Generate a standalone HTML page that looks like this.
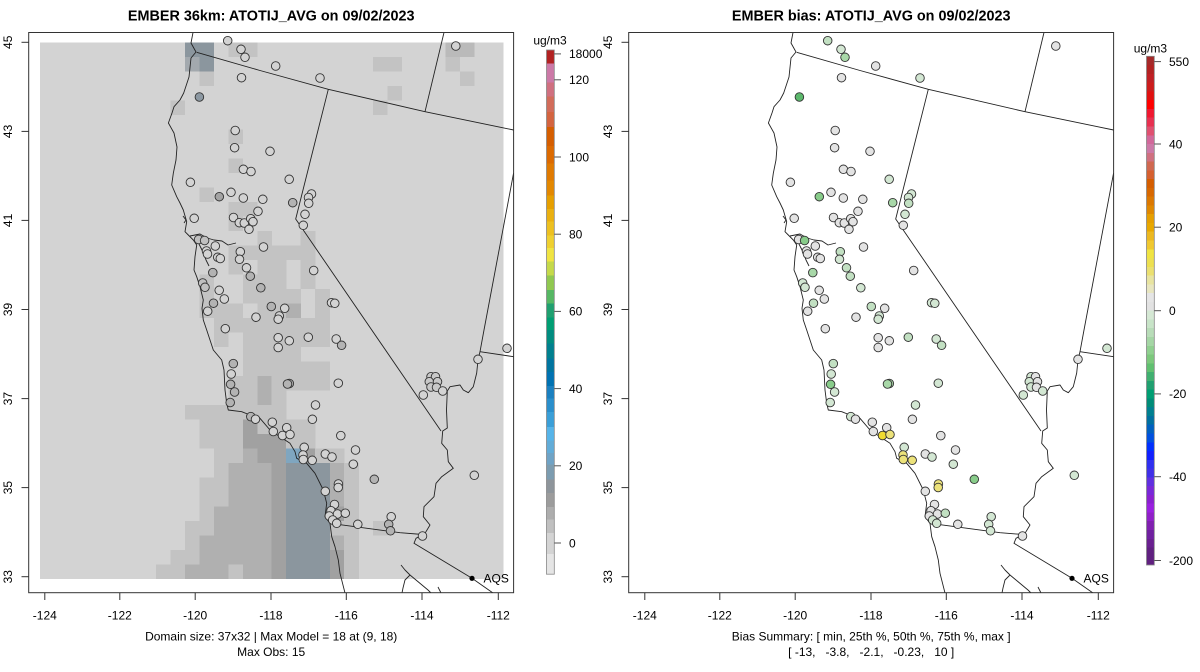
<!DOCTYPE html>
<html>
<head>
<meta charset="utf-8">
<style>
html,body{margin:0;padding:0;background:#fff;}
svg{display:block;}
text{font-family:"Liberation Sans",Arial,sans-serif;fill:#000;}
.t{font-size:14.4px;font-weight:bold;}
.a{font-size:12px;}
.n{fill:#d3d3d3}.d{fill:#a3a3a3}.m{fill:#b3b3b3}.c{fill:#c0c0c0}.b{fill:#8c98a2}.v{fill:#c8c8c8}
.g0{fill:#e3e3e3}.g1{fill:#d3e7d3}.g2{fill:#c2e0c2}.g3{fill:#a8d8a8}.g4{fill:#88cc8a}.g5{fill:#5cb86c}.y1{fill:#f0dc30}.y2{fill:#ece27a}
.L1{fill:#c3c3c3}.L2{fill:#b0b0b0}.L3{fill:#a1a1a1}.B{fill:#8b969e}.BL{fill:#7fa6c0}.B1{fill:#a3a9ae}.Lb{fill:#bababa}
</style>
</head>
<body>
<svg width="1200" height="672" viewBox="0 0 1200 672" xmlns="http://www.w3.org/2000/svg">
<defs>
<clipPath id="clipL"><rect x="28.7" y="32.5" width="484.9" height="560.2"/></clipPath>
<clipPath id="clipR"><rect x="628.7" y="32.5" width="484.9" height="560.2"/></clipPath>
<g id="geo" fill="none" stroke="#222" stroke-width="0.9" stroke-linejoin="round">
<path d="M193,32.5 L191,43 L196,52 L191,58 L189,77 L183.7,93 L180,100 L174,106.7 L172,113 L168.4,123 L174,133 L177,147 L176,160 L173.3,173.3 L171.7,185 L176.7,196.7 L180,203 L183.3,210 L186.7,221.7 L185,231.7 L188.3,235 L193.3,240 L196.7,245 L195,256.7 L194,270 L196.7,276.7 L200,286.7 L203.3,300 L202,308.3 L203.3,320 L206.7,330 L210,340 L213.3,350 L221.7,360 L224,370 L225,390 L226.7,403.3 L228.3,410 L241.7,411.7 L250,415 L260,418.3 L270,430 L280,436.7 L290,443.3 L295,451.7 L296.7,458.3 L306.7,463.3 L315,473.3 L323.3,490 L326.7,503.3 L325,516.7 L330,523.3 L331.7,536.7 L335,546.7 L338.3,560 L340,573.3 L345,593"/>
<path d="M190,236 L200,234 L207,238 L214,240 L222,241 L228,245 L236,243 M199,244 L203,252 L206,260 L209,266 M183,216 L186,220 L184,223"/>
<path d="M196.7,52.3 L260,70.5 L328.3,89.3 L425,111.7 L513.6,130"/>
<path d="M444,32.5 L425,111.7"/>
<path d="M513.6,173 L484,330 L480,351.7 L513.6,356.7"/>
<path d="M328.3,89.3 L295.7,219 L441,431"/>
<path d="M480,351.7 L478,360 L476.7,373 L473.3,386.7 L468.3,392.7 L463.3,390 L460,385 L450,386.7 L447.3,391 L446.5,410 L447.3,428 L442.7,431 L441.7,443.3 L447.3,450 L448.3,461.7 L453.3,468.3 L441.7,476.7 L436,483.3 L434,496.7 L424,506.7 L423.3,516.7 L430,525 L425,533.3 L416,538.3 L414,543.3 L472,578.3 L493,593"/>
<path d="M330,523.3 L400,532.7 L422.7,534.5"/>
<path d="M401,565 L405,570 L410,575 L416,580 L428,590 L431,593 M410,575 L405,580 L403,588 L402,593 M438,587 L441,593"/>
</g>
</defs>

<!-- ================= LEFT PANEL ================= -->
<text class="t" x="271.2" y="20.7" text-anchor="middle">EMBER 36km: ATOTIJ_AVG on 09/02/2023</text>
<g clip-path="url(#clipL)" shape-rendering="crispEdges">
<rect x="40.2" y="42.3" width="463.1" height="536.5" fill="#d3d3d3"/>
<rect class="B" x="184.9" y="42.3" width="29.2" height="14.8"/>
<rect class="L1" x="228.31" y="42.3" width="29.2" height="14.8"/>
<rect class="Lb" x="445.36" y="42.3" width="29.2" height="14.8"/>
<rect class="B1" x="184.9" y="56.8" width="14.7" height="14.8"/>
<rect class="B" x="199.37" y="56.8" width="14.7" height="14.8"/>
<rect class="L1" x="373.01" y="56.8" width="29.2" height="14.8"/>
<rect class="L1" x="445.36" y="56.8" width="14.7" height="14.8"/>
<rect class="L1" x="199.37" y="71.3" width="14.7" height="14.8"/>
<rect class="L1" x="459.83" y="71.3" width="14.7" height="14.8"/>
<rect class="L1" x="387.48" y="85.8" width="14.7" height="14.8"/>
<rect class="L1" x="170.43" y="100.3" width="14.7" height="14.8"/>
<rect class="L1" x="373.01" y="100.3" width="14.7" height="14.8"/>
<rect class="L1" x="228.31" y="129.3" width="14.7" height="14.8"/>
<rect class="L1" x="228.31" y="158.3" width="14.7" height="14.8"/>
<rect class="L1" x="199.37" y="187.3" width="14.7" height="14.8"/>
<rect class="L1" x="228.31" y="201.8" width="29.2" height="14.8"/>
<rect class="L1" x="228.31" y="216.3" width="14.7" height="14.8"/>
<rect class="L1" x="257.25" y="230.8" width="14.7" height="14.8"/>
<rect class="L1" x="300.66" y="230.8" width="14.7" height="14.8"/>
<rect class="L1" x="228.31" y="245.3" width="87.1" height="14.8"/>
<rect class="L1" x="228.31" y="259.8" width="14.7" height="14.8"/>
<rect class="L1" x="257.25" y="259.8" width="29.2" height="14.8"/>
<rect class="L1" x="300.66" y="259.8" width="14.7" height="14.8"/>
<rect class="L1" x="199.37" y="274.3" width="14.7" height="14.8"/>
<rect class="L1" x="242.78" y="274.3" width="43.7" height="14.8"/>
<rect class="L1" x="300.66" y="274.3" width="14.7" height="14.8"/>
<rect class="L1" x="199.37" y="288.8" width="14.7" height="14.8"/>
<rect class="L1" x="242.78" y="288.8" width="58.1" height="14.8"/>
<rect class="L1" x="315.13" y="288.8" width="14.7" height="14.8"/>
<rect class="L1" x="199.37" y="303.3" width="43.7" height="14.8"/>
<rect class="L1" x="257.25" y="303.3" width="29.2" height="14.8"/>
<rect class="L2" x="286.19" y="303.3" width="14.7" height="14.8"/>
<rect class="L1" x="315.13" y="303.3" width="14.7" height="14.8"/>
<rect class="L1" x="213.84" y="317.8" width="116" height="14.8"/>
<rect class="L1" x="213.84" y="332.3" width="14.7" height="14.8"/>
<rect class="L1" x="242.78" y="332.3" width="87.1" height="14.8"/>
<rect class="L1" x="242.78" y="346.8" width="58.1" height="14.8"/>
<rect class="L1" x="242.78" y="361.3" width="87.1" height="14.8"/>
<rect class="L1" x="228.31" y="375.8" width="29.2" height="14.8"/>
<rect class="L2" x="257.25" y="375.8" width="14.7" height="14.8"/>
<rect class="L1" x="271.72" y="375.8" width="58.1" height="14.8"/>
<rect class="L1" x="228.31" y="390.3" width="29.2" height="14.8"/>
<rect class="L2" x="257.25" y="390.3" width="14.7" height="14.8"/>
<rect class="L1" x="271.72" y="390.3" width="14.7" height="14.8"/>
<rect class="L1" x="184.9" y="404.8" width="101.5" height="14.8"/>
<rect class="L1" x="199.37" y="419.3" width="43.7" height="14.8"/>
<rect class="L3" x="242.78" y="419.3" width="14.7" height="14.8"/>
<rect class="L1" x="257.25" y="419.3" width="58.1" height="14.8"/>
<rect class="L1" x="199.37" y="433.8" width="43.7" height="14.8"/>
<rect class="L3" x="242.78" y="433.8" width="43.7" height="14.8"/>
<rect class="L1" x="286.19" y="433.8" width="29.2" height="14.8"/>
<rect class="L1" x="213.84" y="448.3" width="29.2" height="14.8"/>
<rect class="L2" x="242.78" y="448.3" width="14.7" height="14.8"/>
<rect class="L3" x="257.25" y="448.3" width="29.2" height="14.8"/>
<rect class="BL" x="286.19" y="448.3" width="14.7" height="14.8"/>
<rect class="L3" x="300.66" y="448.3" width="14.7" height="14.8"/>
<rect class="L1" x="315.13" y="448.3" width="29.2" height="14.8"/>
<rect class="L1" x="213.84" y="462.8" width="14.7" height="14.8"/>
<rect class="L2" x="228.31" y="462.8" width="43.7" height="14.8"/>
<rect class="L2" x="329.6" y="462.8" width="14.7" height="14.8"/>
<rect class="L1" x="344.07" y="462.8" width="14.7" height="14.8"/>
<rect class="L1" x="199.37" y="477.3" width="29.2" height="29.3"/>
<rect class="L2" x="228.31" y="477.3" width="43.7" height="29.3"/>
<rect class="L2" x="329.6" y="477.3" width="14.7" height="29.3"/>
<rect class="L1" x="344.07" y="477.3" width="14.7" height="29.3"/>
<rect class="L1" x="199.37" y="506.3" width="14.7" height="14.8"/>
<rect class="L2" x="213.84" y="506.3" width="58.1" height="14.8"/>
<rect class="L3" x="329.6" y="506.3" width="14.7" height="14.8"/>
<rect class="L1" x="344.07" y="506.3" width="14.7" height="14.8"/>
<rect class="L1" x="184.9" y="520.8" width="29.2" height="14.8"/>
<rect class="L2" x="213.84" y="520.8" width="58.1" height="14.8"/>
<rect class="L1" x="329.6" y="520.8" width="29.2" height="14.8"/>
<rect class="L1" x="373.01" y="520.8" width="14.7" height="14.8"/>
<rect class="L1" x="184.9" y="535.3" width="14.7" height="14.8"/>
<rect class="L2" x="199.37" y="535.3" width="72.6" height="14.8"/>
<rect class="L2" x="329.6" y="535.3" width="14.7" height="14.8"/>
<rect class="L1" x="344.07" y="535.3" width="14.7" height="14.8"/>
<rect class="L1" x="170.43" y="549.8" width="29.2" height="14.8"/>
<rect class="L2" x="199.37" y="549.8" width="72.6" height="14.8"/>
<rect class="L3" x="329.6" y="549.8" width="14.7" height="14.8"/>
<rect class="L1" x="344.07" y="549.8" width="14.7" height="14.8"/>
<rect class="L1" x="155.96" y="564.3" width="29.2" height="14.5"/>
<rect class="L2" x="184.9" y="564.3" width="43.7" height="14.5"/>
<rect class="L1" x="228.31" y="564.3" width="14.7" height="14.5"/>
<rect class="L2" x="242.78" y="564.3" width="29.2" height="14.5"/>
<rect class="L3" x="329.6" y="564.3" width="14.7" height="14.5"/>
<rect class="L1" x="344.07" y="564.3" width="14.7" height="14.5"/>
<rect class="L3" x="271.72" y="462.8" width="14.7" height="116"/>
<rect class="B" x="286.19" y="462.8" width="43.6" height="116"/>
</g>
<g clip-path="url(#clipL)">
<use href="#geo"/>
<g stroke="#333" stroke-width="0.9">
<circle class="n" cx="227.7" cy="40.7" r="4.3"/><circle class="n" cx="241" cy="49.3" r="4.3"/><circle class="n" cx="245" cy="57.3" r="4.3"/><circle class="n" cx="275.7" cy="66" r="4.3"/><circle class="n" cx="241.5" cy="77.7" r="4.3"/><circle class="n" cx="320" cy="78" r="4.3"/><circle class="b" cx="199.4" cy="97" r="4.3"/><circle class="n" cx="376" cy="28" r="4.3"/><circle class="n" cx="455.8" cy="46" r="4.3"/><circle class="n" cx="235.2" cy="130.5" r="4.3"/><circle class="n" cx="234.6" cy="147.7" r="4.3"/><circle class="n" cx="270" cy="151.3" r="4.3"/><circle class="n" cx="243.4" cy="169.3" r="4.3"/><circle class="n" cx="251" cy="171.5" r="4.3"/><circle class="n" cx="289.2" cy="179.3" r="4.3"/><circle class="n" cx="190.4" cy="182.3" r="4.3"/><circle class="n" cx="231" cy="192.3" r="4.3"/><circle class="d" cx="219.3" cy="196.7" r="4.3"/><circle class="n" cx="243.3" cy="198" r="4.3"/><circle class="n" cx="262.8" cy="199.3" r="4.3"/><circle class="m" cx="292.7" cy="202.7" r="4.3"/><circle class="n" cx="311.5" cy="194" r="4.3"/><circle class="n" cx="308.5" cy="197.5" r="4.3"/><circle class="n" cx="308.7" cy="203.3" r="4.3"/><circle class="n" cx="305" cy="214.3" r="4.3"/><circle class="n" cx="303.3" cy="225.3" r="4.3"/><circle class="n" cx="194.2" cy="218.3" r="4.3"/><circle class="n" cx="233.5" cy="217.5" r="4.3"/><circle class="n" cx="239.3" cy="222.7" r="4.3"/><circle class="n" cx="244.3" cy="223" r="4.3"/><circle class="n" cx="250.7" cy="218.7" r="4.3"/><circle class="n" cx="253" cy="221.7" r="4.3"/><circle class="n" cx="249" cy="229.3" r="4.3"/><circle class="n" cx="258" cy="211.3" r="4.3"/><circle class="c" cx="198.6" cy="239.5" r="4.3"/><circle class="c" cx="204.6" cy="240.5" r="4.3"/><circle class="n" cx="215.3" cy="246" r="4.3"/><circle class="n" cx="206.5" cy="251" r="4.3"/><circle class="n" cx="207.5" cy="254" r="4.3"/><circle class="n" cx="217.7" cy="257.3" r="4.3"/><circle class="n" cx="220.3" cy="258.5" r="4.3"/><circle class="n" cx="240.3" cy="251.7" r="4.3"/><circle class="n" cx="239.5" cy="259.3" r="4.3"/><circle class="n" cx="263.5" cy="247" r="4.3"/><circle class="n" cx="246.5" cy="267.8" r="4.3"/><circle class="m" cx="250.3" cy="276.2" r="4.3"/><circle class="m" cx="212.8" cy="272.6" r="4.3"/><circle class="n" cx="313.7" cy="270.5" r="4.3"/><circle class="c" cx="202.7" cy="283" r="4.3"/><circle class="c" cx="205" cy="287.3" r="4.3"/><circle class="m" cx="260.8" cy="287.8" r="4.3"/><circle class="n" cx="219.2" cy="290.3" r="4.3"/><circle class="n" cx="224.3" cy="299" r="4.3"/><circle class="m" cx="213.5" cy="303.2" r="4.3"/><circle class="n" cx="207.7" cy="311.2" r="4.3"/><circle class="m" cx="271.3" cy="306.5" r="4.3"/><circle class="n" cx="284.7" cy="308.3" r="4.3"/><circle class="n" cx="279.3" cy="316" r="4.3"/><circle class="n" cx="278.2" cy="319.2" r="4.3"/><circle class="n" cx="256" cy="317.2" r="4.3"/><circle class="n" cx="331.5" cy="302.7" r="4.3"/><circle class="n" cx="334.8" cy="303.3" r="4.3"/><circle class="n" cx="225.3" cy="328.7" r="4.3"/><circle class="n" cx="278.2" cy="337.7" r="4.3"/><circle class="n" cx="289.3" cy="340.8" r="4.3"/><circle class="n" cx="278.2" cy="347.5" r="4.3"/><circle class="n" cx="308.3" cy="337.2" r="4.3"/><circle class="n" cx="336.2" cy="339" r="4.3"/><circle class="m" cx="341.6" cy="345.3" r="4.3"/><circle class="m" cx="233.3" cy="363.6" r="4.3"/><circle class="n" cx="231.2" cy="374" r="4.3"/><circle class="m" cx="230.6" cy="384.3" r="4.3"/><circle class="m" cx="234.6" cy="392" r="4.3"/><circle class="m" cx="230.2" cy="402.5" r="4.3"/><circle class="m" cx="289.3" cy="383.5" r="4.3"/><circle class="m" cx="287.5" cy="384" r="4.3"/><circle class="n" cx="338.3" cy="383.2" r="4.3"/><circle class="n" cx="315.5" cy="405" r="4.3"/><circle class="n" cx="312.4" cy="419.3" r="4.3"/><circle class="m" cx="250.8" cy="416.6" r="4.3"/><circle class="n" cx="255.5" cy="419.2" r="4.3"/><circle class="n" cx="272.3" cy="422.2" r="4.3"/><circle class="n" cx="273.3" cy="431.5" r="4.3"/><circle class="n" cx="286.7" cy="427.7" r="4.3"/><circle class="n" cx="282.5" cy="435.5" r="4.3"/><circle class="n" cx="290" cy="434.5" r="4.3"/><circle class="n" cx="340.8" cy="435.6" r="4.3"/><circle class="n" cx="304.2" cy="447.3" r="4.3"/><circle class="n" cx="303" cy="455" r="4.3"/><circle class="n" cx="303.3" cy="459.5" r="4.3"/><circle class="n" cx="312.2" cy="460.3" r="4.3"/><circle class="n" cx="325.3" cy="454" r="4.3"/><circle class="n" cx="332" cy="457" r="4.3"/><circle class="n" cx="355.5" cy="450" r="4.3"/><circle class="n" cx="353.3" cy="464.2" r="4.3"/><circle class="m" cx="374.3" cy="479.3" r="4.3"/><circle class="n" cx="338.4" cy="484" r="4.3"/><circle class="n" cx="338.2" cy="487.5" r="4.3"/><circle class="n" cx="325.3" cy="491.3" r="4.3"/><circle class="n" cx="334.5" cy="504.5" r="4.3"/><circle class="n" cx="331" cy="510.7" r="4.3"/><circle class="n" cx="329.3" cy="516" r="4.3"/><circle class="n" cx="337.5" cy="514" r="4.3"/><circle class="n" cx="345.3" cy="513.2" r="4.3"/><circle class="n" cx="332.7" cy="520" r="4.3"/><circle class="n" cx="336.7" cy="523.3" r="4.3"/><circle class="n" cx="357.8" cy="524.3" r="4.3"/><circle class="n" cx="391.2" cy="516.7" r="4.3"/><circle class="m" cx="388.7" cy="524.3" r="4.3"/><circle class="m" cx="390.5" cy="530.8" r="4.3"/><circle class="n" cx="422.5" cy="536" r="4.3"/><circle class="v" cx="431" cy="376.7" r="4.3"/><circle class="v" cx="435.5" cy="376.7" r="4.3"/><circle class="v" cx="429.3" cy="381.7" r="4.3"/><circle class="v" cx="437.5" cy="381.7" r="4.3"/><circle class="v" cx="431" cy="387" r="4.3"/><circle class="v" cx="436.5" cy="387.3" r="4.3"/><circle class="n" cx="442.7" cy="391" r="4.3"/><circle class="n" cx="423.3" cy="395" r="4.3"/><circle class="n" cx="474.3" cy="475.3" r="4.3"/><circle class="n" cx="478" cy="359.3" r="4.3"/><circle class="n" cx="507" cy="348.3" r="4.3"/>
</g>
<circle cx="472" cy="578.3" r="2.6" fill="#000"/>
</g>
<text class="a" x="483.5" y="582.6">AQS</text>
<rect x="28.7" y="32.5" width="484.9" height="560.2" fill="none" stroke="#333" stroke-width="1"/>
<g stroke="#333" stroke-width="1">
<line x1="44.8" y1="592.7" x2="44.8" y2="600"/><line x1="119.8" y1="592.7" x2="119.8" y2="600"/><line x1="195.2" y1="592.7" x2="195.2" y2="600"/><line x1="271" y1="592.7" x2="271" y2="600"/><line x1="346.3" y1="592.7" x2="346.3" y2="600"/><line x1="422" y1="592.7" x2="422" y2="600"/><line x1="498.3" y1="592.7" x2="498.3" y2="600"/>
<line x1="28.7" y1="42.3" x2="21.5" y2="42.3"/><line x1="28.7" y1="131.4" x2="21.5" y2="131.4"/><line x1="28.7" y1="220.4" x2="21.5" y2="220.4"/><line x1="28.7" y1="309.5" x2="21.5" y2="309.5"/><line x1="28.7" y1="398.6" x2="21.5" y2="398.6"/><line x1="28.7" y1="487.6" x2="21.5" y2="487.6"/><line x1="28.7" y1="576.7" x2="21.5" y2="576.7"/>
</g>
<text class="a" x="44.8" y="619.5" text-anchor="middle">-124</text><text class="a" x="119.8" y="619.5" text-anchor="middle">-122</text><text class="a" x="195.2" y="619.5" text-anchor="middle">-120</text><text class="a" x="271" y="619.5" text-anchor="middle">-118</text><text class="a" x="346.3" y="619.5" text-anchor="middle">-116</text><text class="a" x="422" y="619.5" text-anchor="middle">-114</text><text class="a" x="498.3" y="619.5" text-anchor="middle">-112</text>
<text class="a" text-anchor="middle" transform="translate(12.2,42.3) rotate(-90)">45</text><text class="a" text-anchor="middle" transform="translate(12.2,131.4) rotate(-90)">43</text><text class="a" text-anchor="middle" transform="translate(12.2,220.4) rotate(-90)">41</text><text class="a" text-anchor="middle" transform="translate(12.2,309.5) rotate(-90)">39</text><text class="a" text-anchor="middle" transform="translate(12.2,398.6) rotate(-90)">37</text><text class="a" text-anchor="middle" transform="translate(12.2,487.6) rotate(-90)">35</text><text class="a" text-anchor="middle" transform="translate(12.2,576.7) rotate(-90)">33</text>
<text class="a" x="271.2" y="640.4" text-anchor="middle">Domain size: 37x32 | Max Model = 18 at (9, 18)</text>
<text class="a" x="271.2" y="656.2" text-anchor="middle">Max Obs: 15</text>
<!-- left colorbar -->
<g shape-rendering="crispEdges">
<rect x="546.5" y="50" width="7.8" height="13.9" fill="#b22222"/><rect x="546.5" y="63.4" width="7.8" height="19.7" fill="#cc79a7"/><rect x="546.5" y="82.6" width="7.8" height="14.2" fill="#d07080"/><rect x="546.5" y="96.3" width="7.8" height="16.3" fill="#d26c5a"/><rect x="546.5" y="112.1" width="7.8" height="15.2" fill="#d46440"/><rect x="546.5" y="126.8" width="7.8" height="19.5" fill="#d55e00"/><rect x="546.5" y="145.8" width="7.8" height="18.4" fill="#dc6a00"/><rect x="546.5" y="163.7" width="7.8" height="17.3" fill="#e07a00"/><rect x="546.5" y="180.5" width="7.8" height="15.3" fill="#e38800"/><rect x="546.5" y="195.3" width="7.8" height="14.1" fill="#e69f00"/><rect x="546.5" y="208.9" width="7.8" height="13.2" fill="#eab010"/><rect x="546.5" y="221.6" width="7.8" height="14.2" fill="#edc020"/><rect x="546.5" y="235.3" width="7.8" height="13.1" fill="#efd030"/><rect x="546.5" y="247.9" width="7.8" height="14.2" fill="#f0e442"/><rect x="546.5" y="261.6" width="7.8" height="14.2" fill="#c5d94a"/><rect x="546.5" y="275.3" width="7.8" height="15.2" fill="#90c850"/><rect x="546.5" y="290" width="7.8" height="14.2" fill="#56b864"/><rect x="546.5" y="303.7" width="7.8" height="14.2" fill="#20a070"/><rect x="546.5" y="317.4" width="7.8" height="13.1" fill="#009e73"/><rect x="546.5" y="330" width="7.8" height="14.2" fill="#008c80"/><rect x="546.5" y="343.7" width="7.8" height="15.2" fill="#00808f"/><rect x="546.5" y="358.4" width="7.8" height="14.2" fill="#0075a0"/><rect x="546.5" y="372.1" width="7.8" height="14.2" fill="#0072b2"/><rect x="546.5" y="385.8" width="7.8" height="13.1" fill="#1a80c0"/><rect x="546.5" y="398.4" width="7.8" height="14.2" fill="#2a8fcc"/><rect x="546.5" y="412.1" width="7.8" height="15.2" fill="#3a9fd8"/><rect x="546.5" y="426.8" width="7.8" height="14.2" fill="#56b4e9"/><rect x="546.5" y="440.5" width="7.8" height="13.2" fill="#62acd8"/><rect x="546.5" y="453.2" width="7.8" height="12" fill="#6fa3c6"/><rect x="546.5" y="464.7" width="7.8" height="15.3" fill="#7c9cb0"/><rect x="546.5" y="479.5" width="7.8" height="14.2" fill="#8e959b"/><rect x="546.5" y="493.2" width="7.8" height="14.1" fill="#9c9c9c"/><rect x="546.5" y="506.8" width="7.8" height="13.2" fill="#adadad"/><rect x="546.5" y="519.5" width="7.8" height="14.2" fill="#c0c0c0"/><rect x="546.5" y="533.2" width="7.8" height="21.5" fill="#d4d4d4"/><rect x="546.5" y="554.2" width="7.8" height="20" fill="#e5e5e5"/>
</g>
<rect x="546.5" y="50" width="7.8" height="524.2" fill="none" stroke="#888" stroke-width="0.8"/>
<g stroke="#555" stroke-width="1">
<line x1="554.3" y1="53.9" x2="561" y2="53.9"/><line x1="554.3" y1="79.8" x2="561" y2="79.8"/><line x1="554.3" y1="157" x2="561" y2="157"/><line x1="554.3" y1="234.2" x2="561" y2="234.2"/><line x1="554.3" y1="311.4" x2="561" y2="311.4"/><line x1="554.3" y1="388.6" x2="561" y2="388.6"/><line x1="554.3" y1="465.8" x2="561" y2="465.8"/><line x1="554.3" y1="543" x2="561" y2="543"/>
</g>
<text class="a" x="569" y="58.2">18000</text><text class="a" x="569" y="84.1">120</text><text class="a" x="569" y="161.3">100</text><text class="a" x="569" y="238.5">80</text><text class="a" x="569" y="315.7">60</text><text class="a" x="569" y="392.9">40</text><text class="a" x="569" y="470.1">20</text><text class="a" x="569" y="547.3">0</text>
<text class="a" x="550" y="44.3" text-anchor="middle">ug/m3</text>

<!-- ================= RIGHT PANEL ================= -->
<text class="t" x="871.2" y="20.7" text-anchor="middle">EMBER bias: ATOTIJ_AVG on 09/02/2023</text>
<g clip-path="url(#clipR)">
<g transform="translate(600,0)">
<use href="#geo"/>
<g stroke="#333" stroke-width="0.9">
<circle class="g2" cx="227.7" cy="40.7" r="4.3"/><circle class="g1" cx="241" cy="49.3" r="4.3"/><circle class="g3" cx="245" cy="57.3" r="4.3"/><circle class="g0" cx="275.7" cy="66" r="4.3"/><circle class="g0" cx="241.5" cy="77.7" r="4.3"/><circle class="g1" cx="320" cy="78" r="4.3"/><circle class="g5" cx="199.4" cy="97" r="4.3"/><circle class="g1" cx="376" cy="28" r="4.3"/><circle class="g0" cx="455.8" cy="46" r="4.3"/><circle class="g0" cx="235.2" cy="130.5" r="4.3"/><circle class="g0" cx="234.6" cy="147.7" r="4.3"/><circle class="g0" cx="270" cy="151.3" r="4.3"/><circle class="g0" cx="243.4" cy="169.3" r="4.3"/><circle class="g0" cx="251" cy="171.5" r="4.3"/><circle class="g1" cx="289.2" cy="179.3" r="4.3"/><circle class="g0" cx="190.4" cy="182.3" r="4.3"/><circle class="g0" cx="231" cy="192.3" r="4.3"/><circle class="g4" cx="219.3" cy="196.7" r="4.3"/><circle class="g0" cx="243.3" cy="198" r="4.3"/><circle class="g0" cx="262.8" cy="199.3" r="4.3"/><circle class="g3" cx="292.7" cy="202.7" r="4.3"/><circle class="g1" cx="311.5" cy="194" r="4.3"/><circle class="g1" cx="308.5" cy="197.5" r="4.3"/><circle class="g2" cx="308.7" cy="203.3" r="4.3"/><circle class="g1" cx="305" cy="214.3" r="4.3"/><circle class="g0" cx="303.3" cy="225.3" r="4.3"/><circle class="g0" cx="194.2" cy="218.3" r="4.3"/><circle class="g0" cx="233.5" cy="217.5" r="4.3"/><circle class="g0" cx="239.3" cy="222.7" r="4.3"/><circle class="g0" cx="244.3" cy="223" r="4.3"/><circle class="g0" cx="250.7" cy="218.7" r="4.3"/><circle class="g0" cx="253" cy="221.7" r="4.3"/><circle class="g0" cx="249" cy="229.3" r="4.3"/><circle class="g0" cx="258" cy="211.3" r="4.3"/><circle class="g0" cx="198.6" cy="239.5" r="4.3"/><circle class="g4" cx="204.6" cy="240.5" r="4.3"/><circle class="g0" cx="215.3" cy="246" r="4.3"/><circle class="g0" cx="206.5" cy="251" r="4.3"/><circle class="g0" cx="207.5" cy="254" r="4.3"/><circle class="g0" cx="217.7" cy="257.3" r="4.3"/><circle class="g0" cx="220.3" cy="258.5" r="4.3"/><circle class="g2" cx="240.3" cy="251.7" r="4.3"/><circle class="g1" cx="239.5" cy="259.3" r="4.3"/><circle class="g0" cx="263.5" cy="247" r="4.3"/><circle class="g2" cx="246.5" cy="267.8" r="4.3"/><circle class="g2" cx="250.3" cy="276.2" r="4.3"/><circle class="g3" cx="212.8" cy="272.6" r="4.3"/><circle class="g0" cx="313.7" cy="270.5" r="4.3"/><circle class="g1" cx="202.7" cy="283" r="4.3"/><circle class="g1" cx="205" cy="287.3" r="4.3"/><circle class="g1" cx="260.8" cy="287.8" r="4.3"/><circle class="g0" cx="219.2" cy="290.3" r="4.3"/><circle class="g0" cx="224.3" cy="299" r="4.3"/><circle class="g2" cx="213.5" cy="303.2" r="4.3"/><circle class="g0" cx="207.7" cy="311.2" r="4.3"/><circle class="g2" cx="271.3" cy="306.5" r="4.3"/><circle class="g0" cx="284.7" cy="308.3" r="4.3"/><circle class="g1" cx="279.3" cy="316" r="4.3"/><circle class="g1" cx="278.2" cy="319.2" r="4.3"/><circle class="g0" cx="256" cy="317.2" r="4.3"/><circle class="g1" cx="331.5" cy="302.7" r="4.3"/><circle class="g1" cx="334.8" cy="303.3" r="4.3"/><circle class="g0" cx="225.3" cy="328.7" r="4.3"/><circle class="g0" cx="278.2" cy="337.7" r="4.3"/><circle class="g0" cx="289.3" cy="340.8" r="4.3"/><circle class="g0" cx="278.2" cy="347.5" r="4.3"/><circle class="g2" cx="308.3" cy="337.2" r="4.3"/><circle class="g1" cx="336.2" cy="339" r="4.3"/><circle class="g2" cx="341.6" cy="345.3" r="4.3"/><circle class="g2" cx="233.3" cy="363.6" r="4.3"/><circle class="g1" cx="231.2" cy="374" r="4.3"/><circle class="g4" cx="230.6" cy="384.3" r="4.3"/><circle class="g1" cx="234.6" cy="392" r="4.3"/><circle class="g1" cx="230.2" cy="402.5" r="4.3"/><circle class="g3" cx="289.3" cy="383.5" r="4.3"/><circle class="g3" cx="287.5" cy="384" r="4.3"/><circle class="g1" cx="338.3" cy="383.2" r="4.3"/><circle class="g1" cx="315.5" cy="405" r="4.3"/><circle class="g0" cx="312.4" cy="419.3" r="4.3"/><circle class="g1" cx="250.8" cy="416.6" r="4.3"/><circle class="g0" cx="255.5" cy="419.2" r="4.3"/><circle class="g0" cx="272.3" cy="422.2" r="4.3"/><circle class="g0" cx="273.3" cy="431.5" r="4.3"/><circle class="g0" cx="286.7" cy="427.7" r="4.3"/><circle class="y1" cx="282.5" cy="435.5" r="4.3"/><circle class="y2" cx="290" cy="434.5" r="4.3"/><circle class="g0" cx="340.8" cy="435.6" r="4.3"/><circle class="g1" cx="304.2" cy="447.3" r="4.3"/><circle class="y2" cx="303" cy="455" r="4.3"/><circle class="y2" cx="303.3" cy="459.5" r="4.3"/><circle class="y2" cx="312.2" cy="460.3" r="4.3"/><circle class="g0" cx="325.3" cy="454" r="4.3"/><circle class="g1" cx="332" cy="457" r="4.3"/><circle class="g0" cx="355.5" cy="450" r="4.3"/><circle class="g1" cx="353.3" cy="464.2" r="4.3"/><circle class="g4" cx="374.3" cy="479.3" r="4.3"/><circle class="y2" cx="338.4" cy="484" r="4.3"/><circle class="y2" cx="338.2" cy="487.5" r="4.3"/><circle class="g0" cx="325.3" cy="491.3" r="4.3"/><circle class="g0" cx="334.5" cy="504.5" r="4.3"/><circle class="g0" cx="331" cy="510.7" r="4.3"/><circle class="g0" cx="329.3" cy="516" r="4.3"/><circle class="g0" cx="337.5" cy="514" r="4.3"/><circle class="g2" cx="345.3" cy="513.2" r="4.3"/><circle class="g1" cx="332.7" cy="520" r="4.3"/><circle class="g1" cx="336.7" cy="523.3" r="4.3"/><circle class="g0" cx="357.8" cy="524.3" r="4.3"/><circle class="g1" cx="391.2" cy="516.7" r="4.3"/><circle class="g1" cx="388.7" cy="524.3" r="4.3"/><circle class="g1" cx="390.5" cy="530.8" r="4.3"/><circle class="g0" cx="422.5" cy="536" r="4.3"/><circle class="g1" cx="431" cy="376.7" r="4.3"/><circle class="g0" cx="435.5" cy="376.7" r="4.3"/><circle class="g1" cx="429.3" cy="381.7" r="4.3"/><circle class="g0" cx="437.5" cy="381.7" r="4.3"/><circle class="g1" cx="431" cy="387" r="4.3"/><circle class="g0" cx="436.5" cy="387.3" r="4.3"/><circle class="g1" cx="442.7" cy="391" r="4.3"/><circle class="g1" cx="423.3" cy="395" r="4.3"/><circle class="g1" cx="474.3" cy="475.3" r="4.3"/><circle class="g0" cx="478" cy="359.3" r="4.3"/><circle class="g1" cx="507" cy="348.3" r="4.3"/>
</g>
<circle cx="472" cy="578.3" r="2.6" fill="#000"/>
</g>
</g>
<text class="a" x="1083.5" y="582.6">AQS</text>
<rect x="628.7" y="32.5" width="484.9" height="560.2" fill="none" stroke="#333" stroke-width="1"/>
<g stroke="#333" stroke-width="1">
<line x1="644.8" y1="592.7" x2="644.8" y2="600"/><line x1="719.8" y1="592.7" x2="719.8" y2="600"/><line x1="795.2" y1="592.7" x2="795.2" y2="600"/><line x1="871" y1="592.7" x2="871" y2="600"/><line x1="946.3" y1="592.7" x2="946.3" y2="600"/><line x1="1022" y1="592.7" x2="1022" y2="600"/><line x1="1098.3" y1="592.7" x2="1098.3" y2="600"/>
<line x1="628.7" y1="42.3" x2="621.5" y2="42.3"/><line x1="628.7" y1="131.4" x2="621.5" y2="131.4"/><line x1="628.7" y1="220.4" x2="621.5" y2="220.4"/><line x1="628.7" y1="309.5" x2="621.5" y2="309.5"/><line x1="628.7" y1="398.6" x2="621.5" y2="398.6"/><line x1="628.7" y1="487.6" x2="621.5" y2="487.6"/><line x1="628.7" y1="576.7" x2="621.5" y2="576.7"/>
</g>
<text class="a" x="644.8" y="619.5" text-anchor="middle">-124</text><text class="a" x="719.8" y="619.5" text-anchor="middle">-122</text><text class="a" x="795.2" y="619.5" text-anchor="middle">-120</text><text class="a" x="871" y="619.5" text-anchor="middle">-118</text><text class="a" x="946.3" y="619.5" text-anchor="middle">-116</text><text class="a" x="1022" y="619.5" text-anchor="middle">-114</text><text class="a" x="1098.3" y="619.5" text-anchor="middle">-112</text>
<text class="a" text-anchor="middle" transform="translate(612.2,42.3) rotate(-90)">45</text><text class="a" text-anchor="middle" transform="translate(612.2,131.4) rotate(-90)">43</text><text class="a" text-anchor="middle" transform="translate(612.2,220.4) rotate(-90)">41</text><text class="a" text-anchor="middle" transform="translate(612.2,309.5) rotate(-90)">39</text><text class="a" text-anchor="middle" transform="translate(612.2,398.6) rotate(-90)">37</text><text class="a" text-anchor="middle" transform="translate(612.2,487.6) rotate(-90)">35</text><text class="a" text-anchor="middle" transform="translate(612.2,576.7) rotate(-90)">33</text>
<text class="a" x="871.2" y="640.4" text-anchor="middle">Bias Summary: [ min, 25th %, 50th %, 75th %, max ]</text>
<text class="a" x="871.2" y="656.2" text-anchor="middle" style="white-space:pre" xml:space="preserve">[ -13,   -3.8,   -2.1,   -0.23,   10 ]</text>
<!-- right colorbar -->
<g shape-rendering="crispEdges">
<rect x="1146.5" y="56.3" width="7.8" height="9.2" fill="#a52a2a"/><rect x="1146.5" y="65.07" width="7.8" height="9.2" fill="#b22222"/><rect x="1146.5" y="73.84" width="7.8" height="9.2" fill="#c01f24"/><rect x="1146.5" y="82.62" width="7.8" height="9.2" fill="#cc1c1c"/><rect x="1146.5" y="91.39" width="7.8" height="9.2" fill="#e01010"/><rect x="1146.5" y="100.16" width="7.8" height="9.2" fill="#ff0000"/><rect x="1146.5" y="108.93" width="7.8" height="9.2" fill="#f01830"/><rect x="1146.5" y="117.7" width="7.8" height="9.2" fill="#e83050"/><rect x="1146.5" y="126.48" width="7.8" height="9.2" fill="#e05070"/><rect x="1146.5" y="135.25" width="7.8" height="9.2" fill="#d2689a"/><rect x="1146.5" y="144.02" width="7.8" height="9.2" fill="#cc79a7"/><rect x="1146.5" y="152.79" width="7.8" height="9.2" fill="#d07080"/><rect x="1146.5" y="161.56" width="7.8" height="9.2" fill="#d06850"/><rect x="1146.5" y="170.34" width="7.8" height="9.2" fill="#d66030"/><rect x="1146.5" y="179.11" width="7.8" height="9.2" fill="#d55e00"/><rect x="1146.5" y="187.88" width="7.8" height="9.2" fill="#d86800"/><rect x="1146.5" y="196.65" width="7.8" height="9.2" fill="#dc7800"/><rect x="1146.5" y="205.42" width="7.8" height="9.2" fill="#e08800"/><rect x="1146.5" y="214.2" width="7.8" height="9.2" fill="#e69f00"/><rect x="1146.5" y="222.97" width="7.8" height="9.2" fill="#e8a800"/><rect x="1146.5" y="231.74" width="7.8" height="9.2" fill="#ecb820"/><rect x="1146.5" y="240.51" width="7.8" height="9.2" fill="#f0c830"/><rect x="1146.5" y="249.28" width="7.8" height="9.2" fill="#f0e442"/><rect x="1146.5" y="258.06" width="7.8" height="9.2" fill="#ede050"/><rect x="1146.5" y="266.83" width="7.8" height="9.2" fill="#ebe070"/><rect x="1146.5" y="275.6" width="7.8" height="9.2" fill="#e8e4a0"/><rect x="1146.5" y="284.37" width="7.8" height="9.2" fill="#e8e6c0"/><rect x="1146.5" y="293.14" width="7.8" height="9.2" fill="#e5e5e5"/><rect x="1146.5" y="301.92" width="7.8" height="9.2" fill="#e2e2e2"/><rect x="1146.5" y="310.69" width="7.8" height="9.2" fill="#d5e8d4"/><rect x="1146.5" y="319.46" width="7.8" height="9.2" fill="#c8e4c8"/><rect x="1146.5" y="328.23" width="7.8" height="9.2" fill="#b8dcb8"/><rect x="1146.5" y="337" width="7.8" height="9.2" fill="#a5d6a5"/><rect x="1146.5" y="345.78" width="7.8" height="9.2" fill="#90d090"/><rect x="1146.5" y="354.55" width="7.8" height="9.2" fill="#7cc87c"/><rect x="1146.5" y="363.32" width="7.8" height="9.2" fill="#60c070"/><rect x="1146.5" y="372.09" width="7.8" height="9.2" fill="#40b070"/><rect x="1146.5" y="380.86" width="7.8" height="9.2" fill="#20a070"/><rect x="1146.5" y="389.64" width="7.8" height="9.2" fill="#009e73"/><rect x="1146.5" y="398.41" width="7.8" height="9.2" fill="#008c78"/><rect x="1146.5" y="407.18" width="7.8" height="9.2" fill="#008090"/><rect x="1146.5" y="415.95" width="7.8" height="9.2" fill="#0070a0"/><rect x="1146.5" y="424.72" width="7.8" height="9.2" fill="#0060c0"/><rect x="1146.5" y="433.5" width="7.8" height="9.2" fill="#0050e0"/><rect x="1146.5" y="442.27" width="7.8" height="9.2" fill="#0030ff"/><rect x="1146.5" y="451.04" width="7.8" height="9.2" fill="#1020ff"/><rect x="1146.5" y="459.81" width="7.8" height="9.2" fill="#3030f0"/><rect x="1146.5" y="468.58" width="7.8" height="9.2" fill="#4030e8"/><rect x="1146.5" y="477.36" width="7.8" height="9.2" fill="#6030e0"/><rect x="1146.5" y="486.13" width="7.8" height="9.2" fill="#7828d8"/><rect x="1146.5" y="494.9" width="7.8" height="9.2" fill="#8a20d0"/><rect x="1146.5" y="503.67" width="7.8" height="9.2" fill="#9a20e0"/><rect x="1146.5" y="512.44" width="7.8" height="9.2" fill="#9020c8"/><rect x="1146.5" y="521.22" width="7.8" height="9.2" fill="#8020b0"/><rect x="1146.5" y="529.99" width="7.8" height="9.2" fill="#7020a0"/><rect x="1146.5" y="538.76" width="7.8" height="9.2" fill="#6a2090"/><rect x="1146.5" y="547.53" width="7.8" height="17.5" fill="#602080"/>
</g>
<rect x="1146.5" y="56.3" width="7.8" height="508.7" fill="none" stroke="#888" stroke-width="0.8"/>
<g stroke="#555" stroke-width="1">
<line x1="1154.3" y1="61.6" x2="1161" y2="61.6"/><line x1="1154.3" y1="144" x2="1161" y2="144"/><line x1="1154.3" y1="227.2" x2="1161" y2="227.2"/><line x1="1154.3" y1="310.7" x2="1161" y2="310.7"/><line x1="1154.3" y1="393.9" x2="1161" y2="393.9"/><line x1="1154.3" y1="476.7" x2="1161" y2="476.7"/><line x1="1154.3" y1="560.5" x2="1161" y2="560.5"/>
</g>
<text class="a" x="1169" y="65.9">550</text><text class="a" x="1169" y="148.3">40</text><text class="a" x="1169" y="231.5">20</text><text class="a" x="1169" y="315">0</text><text class="a" x="1169" y="398.2">-20</text><text class="a" x="1169" y="481">-40</text><text class="a" x="1169" y="564.8">-200</text>
<text class="a" x="1150.4" y="52.5" text-anchor="middle">ug/m3</text>
</svg>
</body>
</html>
